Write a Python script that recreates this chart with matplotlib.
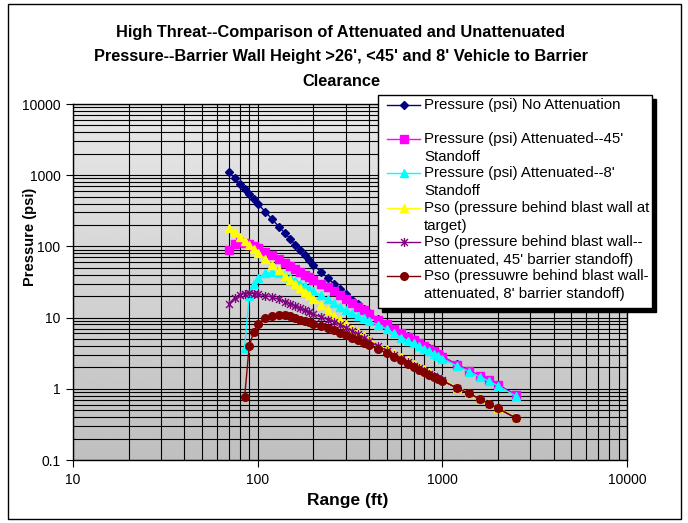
import numpy as np
import matplotlib
matplotlib.use("Agg")
import matplotlib.pyplot as plt
from matplotlib.path import Path
from matplotlib.patches import Rectangle
from matplotlib.lines import Line2D
from matplotlib.ticker import FixedLocator, NullFormatter, FuncFormatter, LogLocator

plt.rcParams['font.family'] = ['Liberation Sans', 'DejaVu Sans']

nan = np.nan

# range (ft)
ranges = [70, 75, 80, 85, 90, 95, 100, 110, 120, 130, 140, 150, 160, 170, 180, 190, 200,
          220, 240, 260, 280, 300, 325, 350, 375, 400, 450, 500, 550, 600, 650, 700, 750,
          800, 850, 900, 950, 1000, 1200, 1400, 1600, 1800, 2000, 2500]

no_atten = [1100, 905, 755, 635, 540, 462, 400, 305, 240, 190, 155, 127, 105, 88, 75, 64, 55,
            44, 36, 29.5, 25, 21.3, 17.8, 15.3, 13.3, 11.7, 9.5, 8.1, 7.0, 6.1, 5.45, 4.9, 4.45,
            4.05, 3.7, 3.4, 3.1, 2.85, 2.2, 1.8, 1.52, 1.32, 1.14, 0.82]

atten_45 = [90, 107, 114, 113, 108, 102, 96, 84, 75, 66, 59, 53, 48, 43.5, 40, 37, 34,
            30, 26.5, 23.5, 20.7, 18.5, 16.2, 14.3, 12.6, 11.2, 9.3, 8.0, 6.9, 6.0, 5.4, 4.85, 4.4,
            4.0, 3.68, 3.38, 3.08, 2.83, 2.18, 1.79, 1.5, 1.31, 1.13, 0.81]

atten_8 = [nan, nan, nan, 3.8, 20, 30, 36, 42, 43, 42, 40, 36.5, 33, 30, 27.5, 25.5, 23.5,
           20.5, 18, 16, 14.2, 12.8, 11.5, 10.5, 9.8, 9.1, 7.8, 6.9, 6.0, 5.25, 4.75, 4.35, 4.0,
           3.65, 3.38, 3.1, 2.86, 2.65, 2.08, 1.74, 1.46, 1.27, 1.1, 0.79]

pso_target = [180, 158, 136, 118, 103, 92, 82, 67, 55, 46, 39, 33.5, 29.5, 26, 23, 20.5, 18.5,
              15.2, 12.6, 10.7, 9.3, 8.1, 7.0, 6.2, 5.5, 4.9, 4.15, 3.6, 3.15, 2.8, 2.5, 2.25, 2.05,
              1.87, 1.72, 1.58, 1.46, 1.36, 1.04, 0.88, 0.74, 0.63, 0.54, 0.4]

pso_45 = [15.6, 19, 21, 21.8, 22, 21.8, 21.3, 20.4, 19.3, 18, 16.7, 15.6, 14.5, 13.5, 12.6, 11.9, 11.2,
          10.2, 9.4, 8.7, 7.9, 7.2, 6.5, 5.8, 5.2, 4.7, 3.95, 3.45, 3.0, 2.65, 2.36, 2.12, 1.93,
          1.77, 1.63, 1.51, 1.41, 1.32, 1.02, 0.86, 0.72, 0.62, 0.53, 0.39]

pso_8 = [nan, nan, nan, 0.77, 4.0, 6.2, 8.0, 9.9, 10.7, 11.0, 10.8, 10.4, 9.9, 9.4, 9.0, 8.6, 8.2,
         7.6, 7.1, 6.6, 6.1, 5.7, 5.2, 4.8, 4.4, 4.1, 3.6, 3.2, 2.8, 2.5, 2.25, 2.02, 1.85,
         1.7, 1.57, 1.46, 1.37, 1.3, 1.02, 0.86, 0.72, 0.61, 0.53, 0.39]

labels = ["Pressure (psi) No Attenuation\n",
          "Pressure (psi) Attenuated--45'\nStandoff",
          "Pressure (psi) Attenuated--8'\nStandoff",
          "Pso (pressure behind blast wall at\ntarget)",
          "Pso (pressure behind blast wall--\nattenuated, 45' barrier standoff)",
          "Pso (pressuwre behind blast wall-\nattenuated, 8' barrier standoff)"]

title_lines = ["High Threat--Comparison of Attenuated and Unattenuated",
               "Pressure--Barrier Wall Height >26', <45' and 8' Vehicle to Barrier",
               "Clearance"]

# Excel style star marker: X plus vertical bar
star = Path([(-1, -1), (1, 1), (-1, 1), (1, -1), (0, -1.3), (0, 1.3)],
            [Path.MOVETO, Path.LINETO, Path.MOVETO, Path.LINETO, Path.MOVETO, Path.LINETO])

styles = [
    dict(color="#000080", marker="D", ms=4.5, mec="#000080"),
    dict(color="#FF00FF", marker="s", ms=5.5, mec="#FF00FF"),
    dict(color="#00FFFF", marker="^", ms=6, mec="#00FFFF"),
    dict(color="#FFFF00", marker="^", ms=6, mec="#FFFF00"),
    dict(color="#800080", marker=star, ms=6.5, mec="#800080", mew=1.0),
    dict(color="#800000", marker="o", ms=5.5, mec="#800000"),
]
series = [no_atten, atten_45, atten_8, pso_target, pso_45, pso_8]

W, H = 688, 523
fig = plt.figure(figsize=(W / 100, H / 100), dpi=100)

def fx(px):
    return px / W

def fy(py):
    return 1 - py / H

# outer chart border
fig.patches.append(Rectangle((fx(8), fy(519)), fx(681) - fx(8), fy(4) - fy(519),
                             transform=fig.transFigure, fill=False, ec="black", lw=1.0))

ax = fig.add_axes([fx(73), fy(460), fx(627) - fx(73), fy(104) - fy(460)])
ax.set_xscale("log")
ax.set_yscale("log")
ax.set_xlim(10, 10000)
ax.set_ylim(0.1, 10000)

# gray gradient plot background
grad = np.linspace(0.75, 0.91, 256).reshape(-1, 1)
ax.imshow(grad, extent=(0, 1, 0, 1), transform=ax.transAxes, aspect="auto",
          cmap="gray", vmin=0, vmax=1, origin="lower", zorder=0)

ax.xaxis.set_major_locator(FixedLocator([10, 100, 1000, 10000]))
ax.yaxis.set_major_locator(FixedLocator([0.1, 1, 10, 100, 1000, 10000]))
ax.xaxis.set_minor_locator(LogLocator(base=10, subs=np.arange(2, 10)))
ax.yaxis.set_minor_locator(LogLocator(base=10, subs=np.arange(2, 10)))
fmt = FuncFormatter(lambda v, p: "{:g}".format(v))
ax.xaxis.set_major_formatter(fmt)
ax.yaxis.set_major_formatter(fmt)
ax.xaxis.set_minor_formatter(NullFormatter())
ax.yaxis.set_minor_formatter(NullFormatter())
ax.tick_params(which="major", direction="out", length=5, width=0.8, labelsize=10, pad=4)
ax.tick_params(which="minor", length=0)
ax.grid(which="both", color="black", lw=0.8)
ax.set_axisbelow(True)
for s in ax.spines.values():
    s.set_color("black")
    s.set_linewidth(1.0)

for ys, st in zip(series, styles):
    ax.plot(ranges, ys, lw=1.0, clip_on=False, **st)

# titles and axis labels
for i, t in enumerate(title_lines):
    fig.text(fx(341), fy(32 + 24.5 * i), t, ha="center", va="center",
             fontsize=11.8, fontweight="bold")
fig.text(fx(30), fy(237), "Pressure (psi)", rotation=90, ha="center", va="center",
         fontsize=10.5, fontweight="bold")
fig.text(fx(348), fy(500), "Range (ft)", ha="center", va="center",
         fontsize=12.5, fontweight="bold")

# legend drawn by hand to match the Excel layout
lx0, ly0, lx1, ly1 = 378, 95, 652, 308
fig.patches.append(Rectangle((fx(lx0 + 4), fy(ly1 + 4)), fx(lx1) - fx(lx0), fy(ly0) - fy(ly1),
                             transform=fig.transFigure, fc="black", ec="black", lw=1.0, zorder=5))
fig.patches.append(Rectangle((fx(lx0), fy(ly1)), fx(lx1) - fx(lx0), fy(ly0) - fy(ly1),
                             transform=fig.transFigure, fc="white", ec="black", lw=1.0, zorder=6))
for i, (lab, st) in enumerate(zip(labels, styles)):
    y0 = 105 + 34.2 * i
    fig.lines.append(Line2D([fx(387), fx(420)], [fy(y0), fy(y0)], transform=fig.transFigure,
                            lw=1.0, zorder=7, color=st["color"]))
    mk = dict(st)
    mk.pop("color")
    fig.lines.append(Line2D([fx(403.5)], [fy(y0)], transform=fig.transFigure, ls="none",
                            color=st["color"], zorder=8, **mk))
    for j, part in enumerate(lab.split("\n")):
        if part:
            fig.text(fx(424), fy(y0 + 18 * j), part, ha="left", va="center",
                     fontsize=10.8, zorder=9)

fig.savefig("out.png", dpi=100)
